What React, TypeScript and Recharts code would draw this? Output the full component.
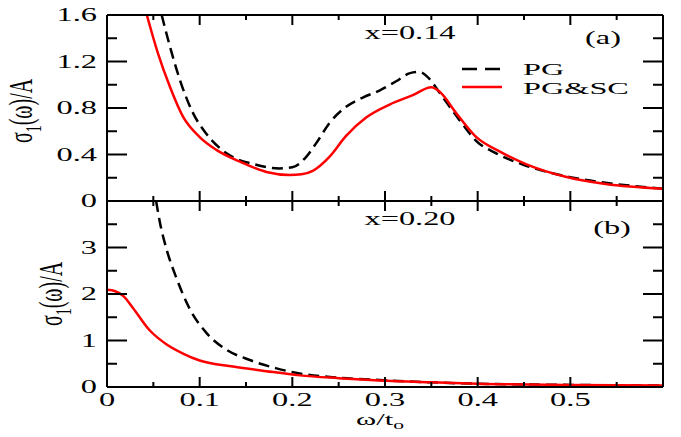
import React from 'react';
import { LineChart, Line, XAxis, YAxis } from 'recharts';

// x axis (shared by both panels)
const xTicks = [0, 0.05, 0.1, 0.15, 0.2, 0.25, 0.3, 0.35, 0.4, 0.45, 0.5, 0.55, 0.6];
const xMajor = [0, 0.1, 0.2, 0.3, 0.4, 0.5, 0.6];
const xLabels = [0, 0.1, 0.2, 0.3, 0.4, 0.5];

// panel (a), x=0.14
const yTicksA = [0, 0.2, 0.4, 0.6, 0.8, 1.0, 1.2, 1.4, 1.6];
const yMajorA = [0, 0.4, 0.8, 1.2, 1.6];

const pgAx = [0.059, 0.07, 0.08, 0.093, 0.107, 0.129, 0.158, 0.186, 0.2, 0.215, 0.226, 0.24, 0.258, 0.276, 0.294, 0.312, 0.327, 0.337, 0.348, 0.359, 0.38, 0.398, 0.42, 0.45, 0.5, 0.55, 0.6];
const pgAy = [1.6, 1.27, 1.01, 0.754, 0.58, 0.41, 0.318, 0.28, 0.29, 0.38, 0.5, 0.67, 0.81, 0.89, 0.95, 1.03, 1.1, 1.11, 1.05, 0.93, 0.7, 0.52, 0.41, 0.31, 0.205, 0.145, 0.106];

const scAx = [0.043, 0.055, 0.068, 0.082, 0.1, 0.118, 0.143, 0.172, 0.197, 0.21, 0.222, 0.24, 0.258, 0.28, 0.305, 0.33, 0.35, 0.359, 0.377, 0.398, 0.424, 0.452, 0.495, 0.538, 0.6];
const scAy = [1.6, 1.27, 0.98, 0.725, 0.55, 0.44, 0.34, 0.25, 0.224, 0.23, 0.26, 0.38, 0.56, 0.72, 0.83, 0.91, 0.978, 0.94, 0.754, 0.553, 0.424, 0.318, 0.209, 0.146, 0.106];

// panel (b), x=0.20
const yTicksB = [0, 0.5, 1, 1.5, 2, 2.5, 3, 3.5, 4];
const yMajorB = [0, 1, 2, 3, 4];
const yLabelsB = [0, 1, 2, 3];

const pgBx = [0.053, 0.057, 0.064, 0.075, 0.089, 0.107, 0.129, 0.154, 0.183, 0.208, 0.25, 0.294, 0.35, 0.4, 0.5, 0.6];
const pgBy = [4.0, 3.55, 2.98, 2.34, 1.69, 1.17, 0.8, 0.58, 0.4, 0.29, 0.2, 0.15, 0.1, 0.07, 0.045, 0.03];

const scBx = [0, 0.009, 0.018, 0.028, 0.046, 0.064, 0.082, 0.1, 0.136, 0.172, 0.208, 0.25, 0.294, 0.35, 0.4, 0.5, 0.6];
const scBy = [2.09, 2.06, 1.95, 1.7, 1.22, 0.92, 0.72, 0.57, 0.44, 0.34, 0.25, 0.19, 0.14, 0.1, 0.07, 0.045, 0.03];

const toPoints = (xs: number[], ys: number[]) => xs.map((x, i) => ({ x, y: ys[i] }));
const pgA = toPoints(pgAx, pgAy);
const scA = toPoints(scAx, scAy);
const pgB = toPoints(pgBx, pgBy);
const scB = toPoints(scBx, scBy);

const FONT = '"Liberation Serif", "Times New Roman", serif';
const W = 681;
const H = 437;
// plot frame layout (px)
const PLOT_L = 107;
const PLOT_W = 556;
const PLOT_H = 186;
const TOP_A = 15;
const MID = TOP_A + PLOT_H;
const X_MAX = 0.6;

// the original figure is stretched sideways, so text gets a horizontal scale
function Wide({ x, y, anchor = 'start', size = 18, sx = 1.8, children }: any) {
  return (
    <text
      transform={`translate(${x},${y}) scale(${sx},1)`}
      textAnchor={anchor}
      fontFamily={FONT}
      fontSize={size}
      fill="#000"
    >
      {children}
    </text>
  );
}

const has = (list: number[], v: number) => list.some((m) => Math.abs(m - v) < 1e-6);
const fmt = (v: number) => String(Number(v.toFixed(2)));

// tick renderer: labels only
function makeTick(side: string, labels: number[]) {
  return (props: any) => {
    const x = Number(props.x);
    const y = Number(props.y);
    const v = props.payload.value;
    if (!has(labels, v)) return <g />;
    if (side === 'left') return <Wide x={x - 10} y={y + 6} anchor="end">{fmt(v)}</Wide>;
    return <Wide x={x} y={y + 19} anchor="middle">{fmt(v)}</Wide>;
  };
}

const axisLine = { stroke: '#000', strokeWidth: 2 };
const common = { tickSize: 0, tickMargin: 0, tickLine: false, stroke: '#000', axisLine, interval: 0 as const };

// inward tick marks for one panel frame, drawn as thin filled bars
function FrameTicks({ top, yMax, yTicks, yMajor }: any) {
  const bottom = top + PLOT_H;
  const right = PLOT_L + PLOT_W;
  const xp = (v: number) => PLOT_L + (v / X_MAX) * PLOT_W;
  const yp = (v: number) => bottom - (v / yMax) * PLOT_H;
  const marks: React.ReactNode[] = [];
  xTicks.forEach((t, i) => {
    const len = has(xMajor, t) ? 10 : 5;
    marks.push(<rect key={`xt${i}`} x={xp(t) - 1} y={top} width={2} height={len} fill="#000" />);
    marks.push(<rect key={`xb${i}`} x={xp(t) - 1} y={bottom - len} width={2} height={len} fill="#000" />);
  });
  yTicks.forEach((t: number, i: number) => {
    const len = has(yMajor, t) ? 20 : 10;
    marks.push(<rect key={`yl${i}`} x={PLOT_L} y={yp(t) - 1} width={len} height={2} fill="#000" />);
    marks.push(<rect key={`yr${i}`} x={right - len} y={yp(t) - 1} width={len} height={2} fill="#000" />);
  });
  return <g>{marks}</g>;
}

function Panel({ height, margin, bottomAxisH, yDomain, yTicks, yLabels, xLabelList, pg, sc }: any) {
  return (
    <LineChart width={W} height={height} margin={margin}>
      <XAxis
        {...common}
        xAxisId="b"
        type="number"
        dataKey="x"
        domain={[0, X_MAX]}
        ticks={xTicks}
        orientation="bottom"
        height={bottomAxisH}
        tick={makeTick('bottom', xLabelList)}
      />
      <XAxis
        {...common}
        xAxisId="t"
        type="number"
        dataKey="x"
        domain={[0, X_MAX]}
        ticks={xTicks}
        orientation="top"
        height={1}
        tick={false}
      />
      <YAxis
        {...common}
        yAxisId="l"
        type="number"
        domain={yDomain}
        ticks={yTicks}
        width={60}
        tick={makeTick('left', yLabels)}
      />
      <YAxis
        {...common}
        yAxisId="r"
        type="number"
        orientation="right"
        domain={yDomain}
        ticks={yTicks}
        width={1}
        tick={false}
      />
      <Line
        xAxisId="b"
        yAxisId="l"
        data={pg}
        dataKey="y"
        type="monotone"
        stroke="#000"
        strokeWidth={2.5}
        strokeDasharray="11 6"
        dot={false}
        isAnimationActive={false}
      />
      <Line
        xAxisId="b"
        yAxisId="l"
        data={sc}
        dataKey="y"
        type="monotone"
        stroke="#ff0000"
        strokeWidth={2.5}
        dot={false}
        isAnimationActive={false}
      />
    </LineChart>
  );
}

export default function App() {
  return (
    <div style={{ position: 'absolute', left: 0, top: 0, width: W, height: H, background: '#fff' }}>
      <div style={{ position: 'absolute', left: 0, top: 0 }}>
        <Panel
          height={212}
          margin={{ top: TOP_A - 1, right: 17, bottom: 10, left: 47 }}
          bottomAxisH={1}
          yDomain={[0, 1.6]}
          yTicks={yTicksA}
          yLabels={yMajorA}
          xLabelList={[]}
          pg={pgA}
          sc={scA}
        />
      </div>
      <div style={{ position: 'absolute', left: 0, top: 195 }}>
        <Panel
          height={242}
          margin={{ top: 5, right: 17, bottom: 0, left: 47 }}
          bottomAxisH={50}
          yDomain={[0, 4]}
          yTicks={yTicksB}
          yLabels={yLabelsB}
          xLabelList={xLabels}
          pg={pgB}
          sc={scB}
        />
      </div>
      <svg width={W} height={H} style={{ position: 'absolute', left: 0, top: 0, zIndex: 5, pointerEvents: 'none' }}>
        <FrameTicks top={TOP_A} yMax={1.6} yTicks={yTicksA} yMajor={yMajorA} />
        <FrameTicks top={MID} yMax={4} yTicks={yTicksB} yMajor={yMajorB} />
        {/* panel (a) annotations and legend */}
        <Wide x={410} y={39} anchor="middle">x=0.14</Wide>
        <Wide x={603} y={44} anchor="middle">(a)</Wide>
        <line x1={462} y1={69} x2={502} y2={69} stroke="#000" strokeWidth={2.5} strokeDasharray="15 8" />
        <Wide x={523} y={75} size={17} sx={1.9}>PG</Wide>
        <line x1={462} y1={87} x2={502} y2={87} stroke="#ff0000" strokeWidth={2.5} />
        <Wide x={523} y={94} size={17} sx={1.9}>PG&amp;SC</Wide>
        {/* panel (b) annotations */}
        <Wide x={410} y={225} anchor="middle">x=0.20</Wide>
        <Wide x={612} y={234} anchor="middle">(b)</Wide>
        {/* axis titles */}
        <text transform="translate(32,111) rotate(-90) scale(1,1.7)" textAnchor="middle" fontFamily={FONT} fontSize={20} fill="#000">
          σ<tspan fontSize={14} dy={5}>1</tspan><tspan dy={-5}>(ω)/A</tspan>
        </text>
        <text transform="translate(62,294) rotate(-90) scale(1,1.7)" textAnchor="middle" fontFamily={FONT} fontSize={20} fill="#000">
          σ<tspan fontSize={14} dy={5}>1</tspan><tspan dy={-5}>(ω)/A</tspan>
        </text>
        <text transform="translate(380,425) scale(1.8,1)" textAnchor="middle" fontFamily={FONT} fontSize={17} fill="#000">
          ω/t<tspan fontSize={12} dy={4}>o</tspan>
        </text>
      </svg>
    </div>
  );
}
